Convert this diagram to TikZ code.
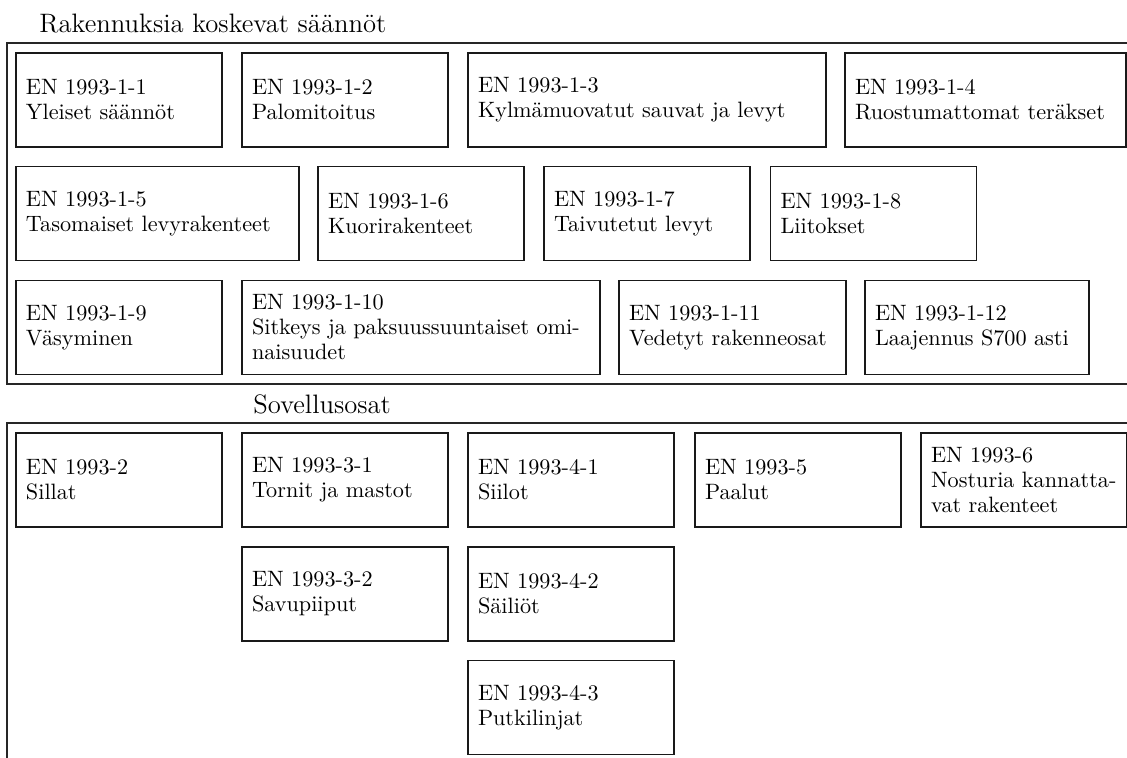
\documentclass[tikz,border=0pt]{standalone}
\usepackage{fontspec}
\begin{document}
\begin{tikzpicture}[x=0.45pt,y=-0.45pt,
  frame/.style={draw=black!85, line width=0.8pt},
  title/.style={anchor=base west, inner sep=0pt, font=\large},
  box/.style={draw=black!90, line width=0.6pt, rectangle, inner xsep=4.5pt, inner ysep=0pt,
    minimum height=42.3pt, font=\fontsize{10}{11.25}\selectfont},
  w206/.style={box, text width=83.7pt},
  w283/.style={box, text width=118.35pt},
  w358/.style={box, text width=152.1pt},
  w281/.style={box, text width=117.45pt},
  w227/.style={box, text width=93.15pt},
  w224/.style={box, text width=91.8pt}]
\useasboundingbox (0,0) rectangle (1127,758);
% section frames
\draw[frame] (1140,43) -- (7,43) -- (7,384) -- (1140,384);
\draw[frame] (1140,423) -- (7,423) -- (7,770);
\node[title] (t1) at (39,33) {Rakennuksia koskevat säännöt};
\node[title] (t2) at (253,414) {Sovellusosat};
% row 1
\node[w206] (b11) at (119,100) {EN 1993-1-1\\Yleiset säännöt};
\node[w206] (b12) at (345,100) {EN 1993-1-2\\Palomitoitus};
\node[w358] (b13) at (647,100) {EN 1993-1-3\\Kylmämuovatut sauvat ja levyt};
\node[w281] (b14) at (985.5,100) {EN 1993-1-4\\Ruostumattomat teräkset};
% row 2
\node[w283] (b15) at (157.5,213.5) {EN 1993-1-5\\Tasomaiset levyrakenteet};
\node[w206] (b16) at (421,213.5) {EN 1993-1-6\\Kuorirakenteet};
\node[w206] (b17) at (647,213.5) {EN 1993-1-7\\Taivutetut levyt};
\node[w206] (b18) at (873.5,213.5) {EN 1993-1-8\\Liitokset};
% row 3
\node[w206] (b19) at (119,327.5) {EN 1993-1-9\\Väsyminen};
\node[w358] (b110) at (421,327.5) {EN 1993-1-10\\Sitkeys ja paksuussuuntaiset omi-\linebreak naisuudet};
\node[w227] (b111) at (732.5,327.5) {EN 1993-1-11\\Vedetyt rakenneosat};
\node[w224] (b112) at (977,327.5) {EN 1993-1-12\\Laajennus S700 asti};
% Sovellusosat
\node[w206] (s2) at (119,480) {EN 1993-2\\Sillat};
\node[w206] (s31) at (345,480) {EN 1993-3-1\\Tornit ja mastot};
\node[w206] (s41) at (571,480) {EN 1993-4-1\\Siilot};
\node[w206] (s5) at (798,480) {EN 1993-5\\Paalut};
\node[w206] (s6) at (1024,480) {EN 1993-6\\Nosturia kannatta-\linebreak vat rakenteet};
\node[w206] (s32) at (345,594) {EN 1993-3-2\\Savupiiput};
\node[w206] (s42) at (571,594) {EN 1993-4-2\\Säiliöt};
\node[w206] (s43) at (571,707.5) {EN 1993-4-3\\Putkilinjat};
\end{tikzpicture}
\end{document}
